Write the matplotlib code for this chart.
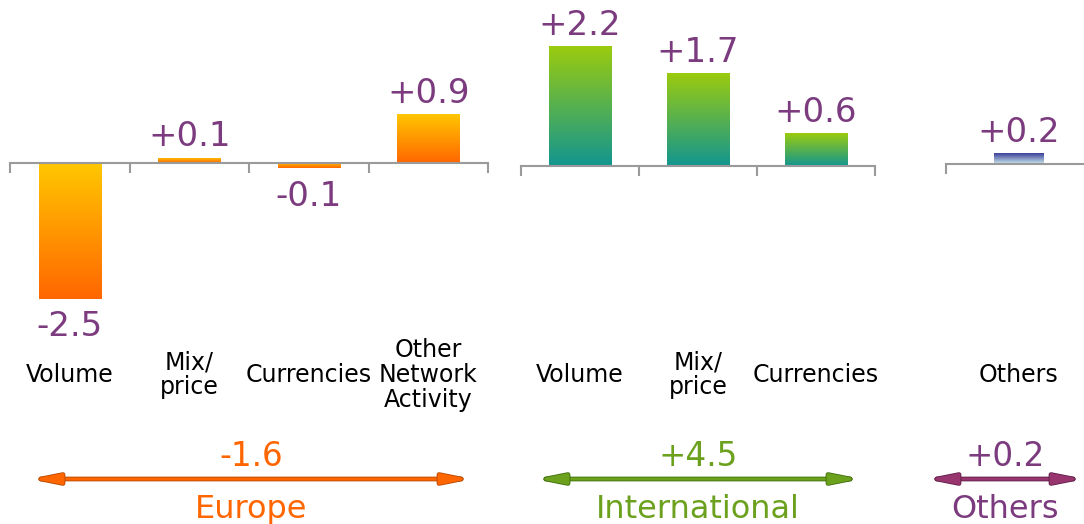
import numpy as np
import matplotlib
matplotlib.use("Agg")
import matplotlib.pyplot as plt
from matplotlib.colors import to_rgb
from matplotlib.transforms import blended_transform_factory
import matplotlib.patheffects as pe

# data
europe_labels = ["Volume", "Mix/\nprice", "Currencies", "Other\nNetwork\nActivity"]
europe_values = [-2.5, 0.1, -0.1, 0.9]
intl_labels = ["Volume", "Mix/\nprice", "Currencies"]
intl_values = [2.2, 1.7, 0.6]
others_labels = ["Others"]
others_values = [0.2]
group_names = ["Europe", "International", "Others"]
group_totals = [-1.6, 4.5, 0.2]

W, H = 1084, 524
PX_PER_UNIT = 54.5
label_font = ["DejaVu Sans Condensed", "DejaVu Sans"]
value_color = "#7B3B7E"

fig = plt.figure(figsize=(W / 100, H / 100), dpi=100)

groups = [
    dict(labels=europe_labels, values=europe_values, left=10, width=478, zero=163,
         bar_w=0.52, xmax=len(europe_labels), top="#FFC800", bottom="#FF6600",
         arrow=(33, 469), color="#FF6600", dark="#B54800"),
    dict(labels=intl_labels, values=intl_values, left=521, width=354, zero=166,
         bar_w=0.53, xmax=len(intl_labels), top="#9BCB0E", bottom="#129690",
         arrow=(538, 858), color="#6CA11E", dark="#3E6C0A"),
    dict(labels=others_labels, values=others_values, left=946, width=146, zero=164,
         bar_w=0.34, xmax=1, top="#3B3F98", bottom="#CBE9EE",
         arrow=(929, 1081), color="#7B3B7E", dark="#5E1E48", arrow_color="#98356F"),
]


def gradient_bars(ax, bars, top, bottom):
    c_top, c_bot = np.array(to_rgb(top)), np.array(to_rgb(bottom))
    t = np.linspace(0, 1, 256)[:, None]
    img = (c_bot * (1 - t) + c_top * t)[:, None, :]
    for b in bars:
        x0, y0 = b.get_x(), b.get_y()
        x1, y1 = x0 + b.get_width(), y0 + b.get_height()
        lo, hi = min(y0, y1), max(y0, y1)
        im = ax.imshow(img, extent=(x0, x1, lo, hi), origin="lower",
                       aspect="auto", interpolation="bilinear", zorder=2)
        im.set_clip_path(b)


for g, name, total in zip(groups, group_names, group_totals):
    ax = fig.add_axes([g["left"] / W, 0, g["width"] / W, 1])
    ax.patch.set_alpha(0)
    n = len(g["values"])
    xs = np.arange(n) + 0.5
    bars = ax.bar(xs, g["values"], width=g["bar_w"], facecolor="none",
                  edgecolor="none", zorder=2)
    gradient_bars(ax, bars, g["top"], g["bottom"])

    ax.set_xlim(0, g["xmax"])
    ax.set_ylim(-(H - g["zero"]) / PX_PER_UNIT, g["zero"] / PX_PER_UNIT)

    for s in ["top", "left", "right"]:
        ax.spines[s].set_visible(False)
    ax.spines["bottom"].set_position(("data", 0))
    ax.spines["bottom"].set_color("#9A9A9A")
    ax.spines["bottom"].set_linewidth(1.5)
    ax.spines["bottom"].set_zorder(3)
    ax.set_yticks([])
    ax.set_xticks(np.arange(g["xmax"] + 1))
    ax.set_xticklabels([])
    ax.tick_params(axis="x", direction="out", length=7.5, width=1.5,
                   color="#9A9A9A")

    # value labels
    for x, v in zip(xs, g["values"]):
        if v >= 0:
            ax.annotate(f"{v:+.1f}", (x, v), xytext=(0, 8), textcoords="offset points",
                        ha="center", va="baseline", fontsize=24.5, color=value_color)
        else:
            ax.annotate(f"{v:+.1f}", (x, v), xytext=(0, -8), textcoords="offset points",
                        ha="center", va="top", fontsize=24.5, color=value_color)

    # category labels
    tr = blended_transform_factory(ax.transData, fig.transFigure)
    for x, lab in zip(xs, g["labels"]):
        ax.text(x, 1 - 375 / H, lab, transform=tr, ha="center", va="center",
                fontsize=17, family=label_font, linespacing=1.05, color="black")

    # group arrow, total and name
    a0, a1 = g["arrow"]
    f0 = (a0 - g["left"]) / g["width"]
    f1 = (a1 - g["left"]) / g["width"]
    ya = 1 - 479 / H
    ann = ax.annotate("", xy=(f1, ya), xytext=(f0, ya), xycoords="axes fraction",
                      annotation_clip=False,
                      arrowprops=dict(arrowstyle="<|-|>,head_length=0.8,head_width=0.16",
                                      mutation_scale=20, lw=2.2,
                                      color=g.get("arrow_color", g["color"]),
                                      shrinkA=0, shrinkB=0))
    ann.arrow_patch.set_path_effects([pe.Stroke(linewidth=3.4, foreground=g["dark"]),
                                      pe.Normal()])
    xm = (f0 + f1) / 2
    tra = blended_transform_factory(ax.transAxes, fig.transFigure)
    ax.text(xm, 1 - 466 / H, f"{total:+.1f}", transform=tra, ha="center",
            va="baseline", fontsize=23.5, color=g["color"])
    ax.text(xm, 1 - 518 / H, name, transform=tra, ha="center", va="baseline",
            fontsize=23, family=label_font, color=g["color"])

fig.savefig("out.png", dpi=100, facecolor="white")
